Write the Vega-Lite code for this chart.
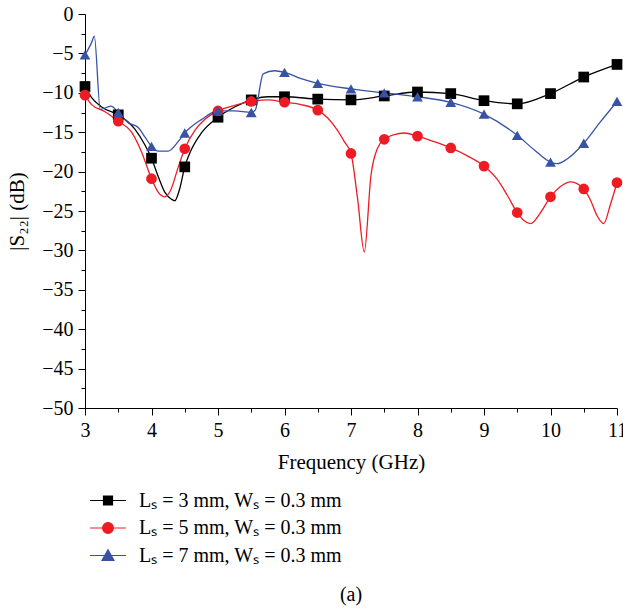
{
  "$schema": "https://vega.github.io/schema/vega-lite/v6.json",
  "autosize": "none",
  "width": 532,
  "height": 394,
  "padding": {"left": 85, "top": 14, "right": 6, "bottom": 208},
  "background": "white",
  "config": {
    "view": {"stroke": null},
    "font": "Liberation Serif",
    "axis": {"domainColor": "black", "tickColor": "black", "labelColor": "black", "titleColor": "black", "grid": false, "labelFont": "Liberation Serif", "titleFont": "Liberation Serif", "labelFontSize": 20, "titleFontSize": 21, "titleFontWeight": "normal", "domainWidth": 1, "tickWidth": 1}
  },
  "title": {"text": "(a)", "orient": "bottom", "font": "Liberation Serif", "fontSize": 20, "fontWeight": "normal", "color": "black", "anchor": "middle", "frame": "group", "offset": 19},
  "datasets": {
    "curves": [
      {"s": "Lₛ = 3 mm, Wₛ = 0.3 mm", "f": 3, "v": -9.2},
      {"s": "Lₛ = 3 mm, Wₛ = 0.3 mm", "f": 3.1, "v": -10.6},
      {"s": "Lₛ = 3 mm, Wₛ = 0.3 mm", "f": 3.25, "v": -11.8},
      {"s": "Lₛ = 3 mm, Wₛ = 0.3 mm", "f": 3.5, "v": -12.8},
      {"s": "Lₛ = 3 mm, Wₛ = 0.3 mm", "f": 3.75, "v": -14.6},
      {"s": "Lₛ = 3 mm, Wₛ = 0.3 mm", "f": 3.9, "v": -16.6},
      {"s": "Lₛ = 3 mm, Wₛ = 0.3 mm", "f": 4, "v": -18.3},
      {"s": "Lₛ = 3 mm, Wₛ = 0.3 mm", "f": 4.1, "v": -20.6},
      {"s": "Lₛ = 3 mm, Wₛ = 0.3 mm", "f": 4.2, "v": -22.6},
      {"s": "Lₛ = 3 mm, Wₛ = 0.3 mm", "f": 4.3, "v": -23.5},
      {"s": "Lₛ = 3 mm, Wₛ = 0.3 mm", "f": 4.35, "v": -23.7},
      {"s": "Lₛ = 3 mm, Wₛ = 0.3 mm", "f": 4.42, "v": -22.3},
      {"s": "Lₛ = 3 mm, Wₛ = 0.3 mm", "f": 4.5, "v": -19.4},
      {"s": "Lₛ = 3 mm, Wₛ = 0.3 mm", "f": 4.6, "v": -17.2},
      {"s": "Lₛ = 3 mm, Wₛ = 0.3 mm", "f": 4.75, "v": -15.1},
      {"s": "Lₛ = 3 mm, Wₛ = 0.3 mm", "f": 5, "v": -13.1},
      {"s": "Lₛ = 3 mm, Wₛ = 0.3 mm", "f": 5.25, "v": -11.8},
      {"s": "Lₛ = 3 mm, Wₛ = 0.3 mm", "f": 5.5, "v": -10.9},
      {"s": "Lₛ = 3 mm, Wₛ = 0.3 mm", "f": 5.75, "v": -10.5},
      {"s": "Lₛ = 3 mm, Wₛ = 0.3 mm", "f": 6, "v": -10.5},
      {"s": "Lₛ = 3 mm, Wₛ = 0.3 mm", "f": 6.5, "v": -10.8},
      {"s": "Lₛ = 3 mm, Wₛ = 0.3 mm", "f": 7, "v": -10.9},
      {"s": "Lₛ = 3 mm, Wₛ = 0.3 mm", "f": 7.5, "v": -10.4},
      {"s": "Lₛ = 3 mm, Wₛ = 0.3 mm", "f": 8, "v": -9.9},
      {"s": "Lₛ = 3 mm, Wₛ = 0.3 mm", "f": 8.5, "v": -10.1},
      {"s": "Lₛ = 3 mm, Wₛ = 0.3 mm", "f": 9, "v": -11.0},
      {"s": "Lₛ = 3 mm, Wₛ = 0.3 mm", "f": 9.5, "v": -11.4},
      {"s": "Lₛ = 3 mm, Wₛ = 0.3 mm", "f": 10, "v": -10.1},
      {"s": "Lₛ = 3 mm, Wₛ = 0.3 mm", "f": 10.5, "v": -8.0},
      {"s": "Lₛ = 3 mm, Wₛ = 0.3 mm", "f": 11, "v": -6.4},

      {"s": "Lₛ = 5 mm, Wₛ = 0.3 mm", "f": 3, "v": -10.3},
      {"s": "Lₛ = 5 mm, Wₛ = 0.3 mm", "f": 3.1, "v": -11.5},
      {"s": "Lₛ = 5 mm, Wₛ = 0.3 mm", "f": 3.3, "v": -12.4},
      {"s": "Lₛ = 5 mm, Wₛ = 0.3 mm", "f": 3.5, "v": -13.6},
      {"s": "Lₛ = 5 mm, Wₛ = 0.3 mm", "f": 3.7, "v": -15.0},
      {"s": "Lₛ = 5 mm, Wₛ = 0.3 mm", "f": 3.85, "v": -17.5},
      {"s": "Lₛ = 5 mm, Wₛ = 0.3 mm", "f": 4, "v": -20.9},
      {"s": "Lₛ = 5 mm, Wₛ = 0.3 mm", "f": 4.1, "v": -22.6},
      {"s": "Lₛ = 5 mm, Wₛ = 0.3 mm", "f": 4.2, "v": -23.2},
      {"s": "Lₛ = 5 mm, Wₛ = 0.3 mm", "f": 4.28, "v": -22.5},
      {"s": "Lₛ = 5 mm, Wₛ = 0.3 mm", "f": 4.4, "v": -19.5},
      {"s": "Lₛ = 5 mm, Wₛ = 0.3 mm", "f": 4.5, "v": -17.1},
      {"s": "Lₛ = 5 mm, Wₛ = 0.3 mm", "f": 4.65, "v": -14.8},
      {"s": "Lₛ = 5 mm, Wₛ = 0.3 mm", "f": 4.8, "v": -13.4},
      {"s": "Lₛ = 5 mm, Wₛ = 0.3 mm", "f": 5, "v": -12.3},
      {"s": "Lₛ = 5 mm, Wₛ = 0.3 mm", "f": 5.25, "v": -11.6},
      {"s": "Lₛ = 5 mm, Wₛ = 0.3 mm", "f": 5.5, "v": -11.1},
      {"s": "Lₛ = 5 mm, Wₛ = 0.3 mm", "f": 5.75, "v": -10.9},
      {"s": "Lₛ = 5 mm, Wₛ = 0.3 mm", "f": 6, "v": -11.2},
      {"s": "Lₛ = 5 mm, Wₛ = 0.3 mm", "f": 6.25, "v": -11.5},
      {"s": "Lₛ = 5 mm, Wₛ = 0.3 mm", "f": 6.5, "v": -12.2},
      {"s": "Lₛ = 5 mm, Wₛ = 0.3 mm", "f": 6.65, "v": -13.2},
      {"s": "Lₛ = 5 mm, Wₛ = 0.3 mm", "f": 6.8, "v": -14.8},
      {"s": "Lₛ = 5 mm, Wₛ = 0.3 mm", "f": 6.9, "v": -16.2},
      {"s": "Lₛ = 5 mm, Wₛ = 0.3 mm", "f": 7, "v": -17.7},
      {"s": "Lₛ = 5 mm, Wₛ = 0.3 mm", "f": 7.1, "v": -23.5},
      {"s": "Lₛ = 5 mm, Wₛ = 0.3 mm", "f": 7.2, "v": -30.2},
      {"s": "Lₛ = 5 mm, Wₛ = 0.3 mm", "f": 7.3, "v": -20.5},
      {"s": "Lₛ = 5 mm, Wₛ = 0.3 mm", "f": 7.4, "v": -17.0},
      {"s": "Lₛ = 5 mm, Wₛ = 0.3 mm", "f": 7.5, "v": -15.9},
      {"s": "Lₛ = 5 mm, Wₛ = 0.3 mm", "f": 7.65, "v": -15.3},
      {"s": "Lₛ = 5 mm, Wₛ = 0.3 mm", "f": 7.8, "v": -15.1},
      {"s": "Lₛ = 5 mm, Wₛ = 0.3 mm", "f": 8, "v": -15.5},
      {"s": "Lₛ = 5 mm, Wₛ = 0.3 mm", "f": 8.25, "v": -16.2},
      {"s": "Lₛ = 5 mm, Wₛ = 0.3 mm", "f": 8.5, "v": -17.0},
      {"s": "Lₛ = 5 mm, Wₛ = 0.3 mm", "f": 8.75, "v": -18.0},
      {"s": "Lₛ = 5 mm, Wₛ = 0.3 mm", "f": 9, "v": -19.3},
      {"s": "Lₛ = 5 mm, Wₛ = 0.3 mm", "f": 9.2, "v": -21.0},
      {"s": "Lₛ = 5 mm, Wₛ = 0.3 mm", "f": 9.35, "v": -23.0},
      {"s": "Lₛ = 5 mm, Wₛ = 0.3 mm", "f": 9.5, "v": -25.2},
      {"s": "Lₛ = 5 mm, Wₛ = 0.3 mm", "f": 9.6, "v": -26.2},
      {"s": "Lₛ = 5 mm, Wₛ = 0.3 mm", "f": 9.7, "v": -26.6},
      {"s": "Lₛ = 5 mm, Wₛ = 0.3 mm", "f": 9.85, "v": -25.2},
      {"s": "Lₛ = 5 mm, Wₛ = 0.3 mm", "f": 10, "v": -23.2},
      {"s": "Lₛ = 5 mm, Wₛ = 0.3 mm", "f": 10.15, "v": -21.9},
      {"s": "Lₛ = 5 mm, Wₛ = 0.3 mm", "f": 10.3, "v": -21.3},
      {"s": "Lₛ = 5 mm, Wₛ = 0.3 mm", "f": 10.45, "v": -21.8},
      {"s": "Lₛ = 5 mm, Wₛ = 0.3 mm", "f": 10.5, "v": -22.2},
      {"s": "Lₛ = 5 mm, Wₛ = 0.3 mm", "f": 10.6, "v": -23.6},
      {"s": "Lₛ = 5 mm, Wₛ = 0.3 mm", "f": 10.7, "v": -25.6},
      {"s": "Lₛ = 5 mm, Wₛ = 0.3 mm", "f": 10.8, "v": -26.6},
      {"s": "Lₛ = 5 mm, Wₛ = 0.3 mm", "f": 10.9, "v": -24.2},
      {"s": "Lₛ = 5 mm, Wₛ = 0.3 mm", "f": 11, "v": -21.4},

      {"s": "Lₛ = 7 mm, Wₛ = 0.3 mm", "f": 3, "v": -5.2},
      {"s": "Lₛ = 7 mm, Wₛ = 0.3 mm", "f": 3.1, "v": -3.6},
      {"s": "Lₛ = 7 mm, Wₛ = 0.3 mm", "f": 3.14, "v": -2.8},
      {"s": "Lₛ = 7 mm, Wₛ = 0.3 mm", "f": 3.23, "v": -12.1},
      {"s": "Lₛ = 7 mm, Wₛ = 0.3 mm", "f": 3.39, "v": -11.7},
      {"s": "Lₛ = 7 mm, Wₛ = 0.3 mm", "f": 3.5, "v": -12.5},
      {"s": "Lₛ = 7 mm, Wₛ = 0.3 mm", "f": 3.65, "v": -13.8},
      {"s": "Lₛ = 7 mm, Wₛ = 0.3 mm", "f": 3.8, "v": -14.4},
      {"s": "Lₛ = 7 mm, Wₛ = 0.3 mm", "f": 3.9, "v": -15.6},
      {"s": "Lₛ = 7 mm, Wₛ = 0.3 mm", "f": 4, "v": -16.8},
      {"s": "Lₛ = 7 mm, Wₛ = 0.3 mm", "f": 4.1, "v": -17.4},
      {"s": "Lₛ = 7 mm, Wₛ = 0.3 mm", "f": 4.25, "v": -17.4},
      {"s": "Lₛ = 7 mm, Wₛ = 0.3 mm", "f": 4.4, "v": -16.2},
      {"s": "Lₛ = 7 mm, Wₛ = 0.3 mm", "f": 4.5, "v": -15.1},
      {"s": "Lₛ = 7 mm, Wₛ = 0.3 mm", "f": 4.75, "v": -13.4},
      {"s": "Lₛ = 7 mm, Wₛ = 0.3 mm", "f": 5, "v": -12.3},
      {"s": "Lₛ = 7 mm, Wₛ = 0.3 mm", "f": 5.25, "v": -12.3},
      {"s": "Lₛ = 7 mm, Wₛ = 0.3 mm", "f": 5.5, "v": -12.5},
      {"s": "Lₛ = 7 mm, Wₛ = 0.3 mm", "f": 5.56, "v": -12.2},
      {"s": "Lₛ = 7 mm, Wₛ = 0.3 mm", "f": 5.68, "v": -7.6},
      {"s": "Lₛ = 7 mm, Wₛ = 0.3 mm", "f": 5.85, "v": -7.2},
      {"s": "Lₛ = 7 mm, Wₛ = 0.3 mm", "f": 6, "v": -7.4},
      {"s": "Lₛ = 7 mm, Wₛ = 0.3 mm", "f": 6.25, "v": -8.2},
      {"s": "Lₛ = 7 mm, Wₛ = 0.3 mm", "f": 6.5, "v": -8.8},
      {"s": "Lₛ = 7 mm, Wₛ = 0.3 mm", "f": 7, "v": -9.5},
      {"s": "Lₛ = 7 mm, Wₛ = 0.3 mm", "f": 7.5, "v": -10.0},
      {"s": "Lₛ = 7 mm, Wₛ = 0.3 mm", "f": 8, "v": -10.5},
      {"s": "Lₛ = 7 mm, Wₛ = 0.3 mm", "f": 8.5, "v": -11.2},
      {"s": "Lₛ = 7 mm, Wₛ = 0.3 mm", "f": 9, "v": -12.7},
      {"s": "Lₛ = 7 mm, Wₛ = 0.3 mm", "f": 9.5, "v": -15.4},
      {"s": "Lₛ = 7 mm, Wₛ = 0.3 mm", "f": 9.75, "v": -17.2},
      {"s": "Lₛ = 7 mm, Wₛ = 0.3 mm", "f": 10, "v": -18.8},
      {"s": "Lₛ = 7 mm, Wₛ = 0.3 mm", "f": 10.1, "v": -19.0},
      {"s": "Lₛ = 7 mm, Wₛ = 0.3 mm", "f": 10.25, "v": -18.4},
      {"s": "Lₛ = 7 mm, Wₛ = 0.3 mm", "f": 10.5, "v": -16.4},
      {"s": "Lₛ = 7 mm, Wₛ = 0.3 mm", "f": 10.75, "v": -13.7},
      {"s": "Lₛ = 7 mm, Wₛ = 0.3 mm", "f": 11, "v": -11.1}
    ],
    "markers": [
      {"s": "Lₛ = 3 mm, Wₛ = 0.3 mm", "f": 3, "v": -9.2},
      {"s": "Lₛ = 3 mm, Wₛ = 0.3 mm", "f": 3.5, "v": -12.8},
      {"s": "Lₛ = 3 mm, Wₛ = 0.3 mm", "f": 4, "v": -18.3},
      {"s": "Lₛ = 3 mm, Wₛ = 0.3 mm", "f": 4.5, "v": -19.4},
      {"s": "Lₛ = 3 mm, Wₛ = 0.3 mm", "f": 5, "v": -13.1},
      {"s": "Lₛ = 3 mm, Wₛ = 0.3 mm", "f": 5.5, "v": -10.9},
      {"s": "Lₛ = 3 mm, Wₛ = 0.3 mm", "f": 6, "v": -10.5},
      {"s": "Lₛ = 3 mm, Wₛ = 0.3 mm", "f": 6.5, "v": -10.8},
      {"s": "Lₛ = 3 mm, Wₛ = 0.3 mm", "f": 7, "v": -10.9},
      {"s": "Lₛ = 3 mm, Wₛ = 0.3 mm", "f": 7.5, "v": -10.4},
      {"s": "Lₛ = 3 mm, Wₛ = 0.3 mm", "f": 8, "v": -9.9},
      {"s": "Lₛ = 3 mm, Wₛ = 0.3 mm", "f": 8.5, "v": -10.1},
      {"s": "Lₛ = 3 mm, Wₛ = 0.3 mm", "f": 9, "v": -11.0},
      {"s": "Lₛ = 3 mm, Wₛ = 0.3 mm", "f": 9.5, "v": -11.4},
      {"s": "Lₛ = 3 mm, Wₛ = 0.3 mm", "f": 10, "v": -10.1},
      {"s": "Lₛ = 3 mm, Wₛ = 0.3 mm", "f": 10.5, "v": -8.0},
      {"s": "Lₛ = 3 mm, Wₛ = 0.3 mm", "f": 11, "v": -6.4},
      {"s": "Lₛ = 5 mm, Wₛ = 0.3 mm", "f": 3, "v": -10.3},
      {"s": "Lₛ = 5 mm, Wₛ = 0.3 mm", "f": 3.5, "v": -13.6},
      {"s": "Lₛ = 5 mm, Wₛ = 0.3 mm", "f": 4, "v": -20.9},
      {"s": "Lₛ = 5 mm, Wₛ = 0.3 mm", "f": 4.5, "v": -17.1},
      {"s": "Lₛ = 5 mm, Wₛ = 0.3 mm", "f": 5, "v": -12.3},
      {"s": "Lₛ = 5 mm, Wₛ = 0.3 mm", "f": 5.5, "v": -11.1},
      {"s": "Lₛ = 5 mm, Wₛ = 0.3 mm", "f": 6, "v": -11.2},
      {"s": "Lₛ = 5 mm, Wₛ = 0.3 mm", "f": 6.5, "v": -12.2},
      {"s": "Lₛ = 5 mm, Wₛ = 0.3 mm", "f": 7, "v": -17.7},
      {"s": "Lₛ = 5 mm, Wₛ = 0.3 mm", "f": 7.5, "v": -15.9},
      {"s": "Lₛ = 5 mm, Wₛ = 0.3 mm", "f": 8, "v": -15.5},
      {"s": "Lₛ = 5 mm, Wₛ = 0.3 mm", "f": 8.5, "v": -17.0},
      {"s": "Lₛ = 5 mm, Wₛ = 0.3 mm", "f": 9, "v": -19.3},
      {"s": "Lₛ = 5 mm, Wₛ = 0.3 mm", "f": 9.5, "v": -25.2},
      {"s": "Lₛ = 5 mm, Wₛ = 0.3 mm", "f": 10, "v": -23.2},
      {"s": "Lₛ = 5 mm, Wₛ = 0.3 mm", "f": 10.5, "v": -22.2},
      {"s": "Lₛ = 5 mm, Wₛ = 0.3 mm", "f": 11, "v": -21.4},
      {"s": "Lₛ = 7 mm, Wₛ = 0.3 mm", "f": 3, "v": -5.2},
      {"s": "Lₛ = 7 mm, Wₛ = 0.3 mm", "f": 3.5, "v": -12.5},
      {"s": "Lₛ = 7 mm, Wₛ = 0.3 mm", "f": 4, "v": -16.8},
      {"s": "Lₛ = 7 mm, Wₛ = 0.3 mm", "f": 4.5, "v": -15.1},
      {"s": "Lₛ = 7 mm, Wₛ = 0.3 mm", "f": 5, "v": -12.3},
      {"s": "Lₛ = 7 mm, Wₛ = 0.3 mm", "f": 5.5, "v": -12.5},
      {"s": "Lₛ = 7 mm, Wₛ = 0.3 mm", "f": 6, "v": -7.4},
      {"s": "Lₛ = 7 mm, Wₛ = 0.3 mm", "f": 6.5, "v": -8.8},
      {"s": "Lₛ = 7 mm, Wₛ = 0.3 mm", "f": 7, "v": -9.5},
      {"s": "Lₛ = 7 mm, Wₛ = 0.3 mm", "f": 7.5, "v": -10.0},
      {"s": "Lₛ = 7 mm, Wₛ = 0.3 mm", "f": 8, "v": -10.5},
      {"s": "Lₛ = 7 mm, Wₛ = 0.3 mm", "f": 8.5, "v": -11.2},
      {"s": "Lₛ = 7 mm, Wₛ = 0.3 mm", "f": 9, "v": -12.7},
      {"s": "Lₛ = 7 mm, Wₛ = 0.3 mm", "f": 9.5, "v": -15.4},
      {"s": "Lₛ = 7 mm, Wₛ = 0.3 mm", "f": 10, "v": -18.8},
      {"s": "Lₛ = 7 mm, Wₛ = 0.3 mm", "f": 10.5, "v": -16.4},
      {"s": "Lₛ = 7 mm, Wₛ = 0.3 mm", "f": 11, "v": -11.1}
    ]
  },
  "layer": [
    {
      "data": {"name": "curves"},
      "mark": {"type": "line", "interpolate": "monotone", "strokeWidth": 1.3},
      "encoding": {
        "x": {"field": "f", "type": "quantitative", "scale": {"domain": [3, 11], "nice": false, "zero": false},
              "axis": {"title": "Frequency (GHz)", "values": [3,4,5,6,7,8,9,10,11], "tickSize": 7, "labelPadding": 5, "titlePadding": 11, "labelFlush": false, "labelOverlap": false}},
        "y": {"field": "v", "type": "quantitative", "scale": {"domain": [-50, 0], "nice": false, "zero": false},
              "axis": {"title": "|S₂₂| (dB)", "values": [-50,-45,-40,-35,-30,-25,-20,-15,-10,-5,0], "tickSize": 7, "labelPadding": 5, "titlePadding": 14, "labelFlush": false, "labelOverlap": false}},
        "color": {"field": "s", "type": "nominal",
                  "scale": {"domain": ["Lₛ = 3 mm, Wₛ = 0.3 mm", "Lₛ = 5 mm, Wₛ = 0.3 mm", "Lₛ = 7 mm, Wₛ = 0.3 mm"], "range": ["#000000", "#ED1C24", "#3953A4"]},
                  "legend": {
                    "title": null, "orient": "none", "legendX": 13, "legendY": 476.5, "padding": 0,
                    "symbolSize": 144, "symbolStrokeWidth": 1.2, "labelOffset": 21, "rowPadding": 7.5,
                    "labelFont": "Liberation Serif", "labelFontSize": 20, "labelColor": "black", "labelLimit": 450,
                    "encode": {"symbols": {"update": {
                      "shape": {"signal": "datum.index === 0 ? 'M-3,0H3M-0.75,-0.75H0.75V0.75H-0.75Z' : datum.index === 1 ? 'M-3,0H3M-0.9,0A0.9,0.9,0,1,1,0.9,0A0.9,0.9,0,1,1,-0.9,0Z' : 'M-3,0H3M0,-0.95L1.0,0.8H-1.0Z'"},
                      "fill": {"signal": "datum.index === 0 ? '#000000' : datum.index === 1 ? '#ED1C24' : '#3953A4'"},
                      "fillOpacity": {"value": 1}
                    }}}
                  }}
      }
    },
    {
      "data": {"name": "markers"},
      "mark": {"type": "point", "filled": true, "opacity": 1, "size": 115},
      "encoding": {
        "x": {"field": "f", "type": "quantitative",
              "axis": {"title": null, "labels": false, "domain": false, "orient": "bottom", "values": [3.5,4.5,5.5,6.5,7.5,8.5,9.5,10.5], "tickSize": 4}},
        "y": {"field": "v", "type": "quantitative",
              "axis": {"title": null, "labels": false, "domain": false, "orient": "left", "values": [-47.5,-42.5,-37.5,-32.5,-27.5,-22.5,-17.5,-12.5,-7.5,-2.5], "tickSize": 4}},
        "color": {"field": "s", "type": "nominal", "legend": null},
        "shape": {"field": "s", "type": "nominal",
                  "scale": {"range": ["square", "circle", "triangle-up"]},
                  "legend": null}
      }
    }
  ],
  "resolve": {"axis": {"x": "independent", "y": "independent"}}
}
